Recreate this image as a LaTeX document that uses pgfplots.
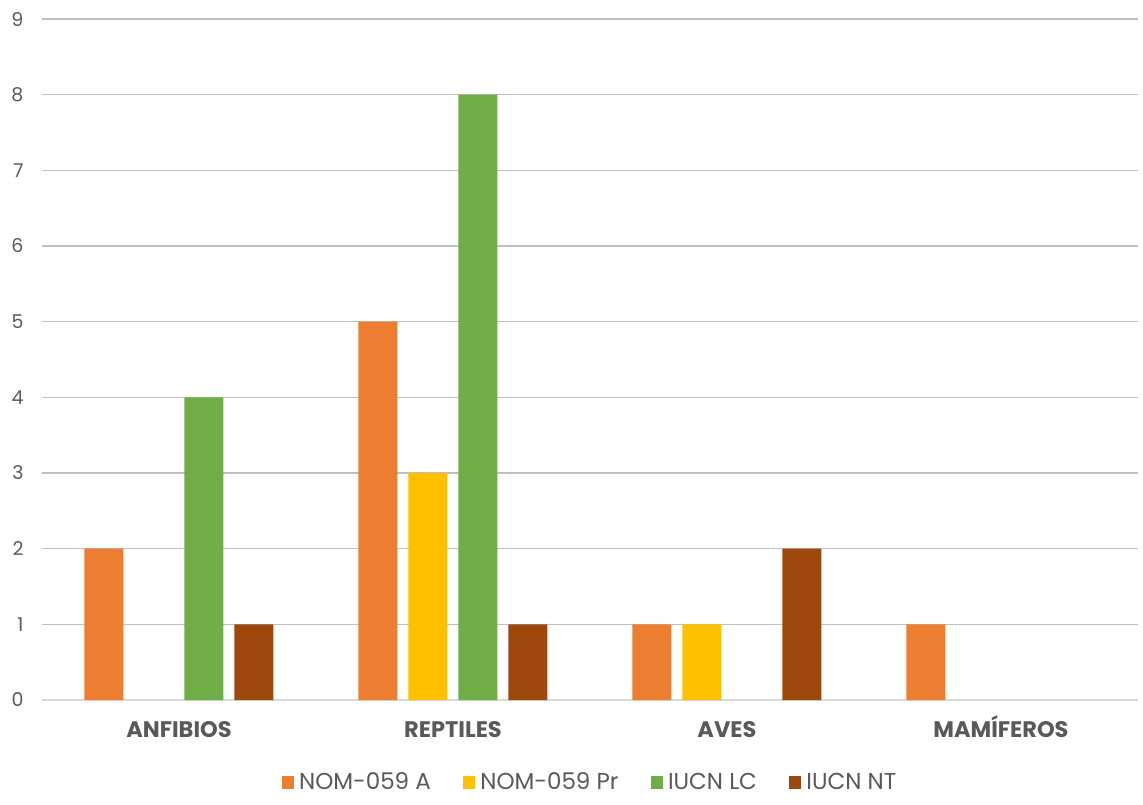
\documentclass[border=0pt]{standalone}
\usepackage{fontspec}
\setmainfont{Poppins}
\usepackage{pgfplots}
\pgfplotsset{compat=1.18}
\definecolor{txt}{HTML}{595959}
\definecolor{grid}{HTML}{D9D9D9}
\definecolor{cA}{HTML}{ED7D31}
\definecolor{cPr}{HTML}{FFC000}
\definecolor{cLC}{HTML}{70AD47}
\definecolor{cNT}{HTML}{9E480E}
\begin{document}
\begin{tikzpicture}
\path[use as bounding box] (0,0) rectangle (1143pt,804pt);
\begin{axis}[
  at={(42pt,104pt)}, anchor=south west,
  scale only axis, width=1096pt, height=681pt,
  ybar=11pt, bar width=39pt,
  xmin=-0.5, xmax=3.5, ymin=0, ymax=9,
  xtick={0,1,2,3},
  xticklabels={ANFIBIOS,REPTILES,AVES,MAMÍFEROS},
  ytick={0,...,9},
  xmajorgrids=false, ymajorgrids=true, grid style={grid, line width=1.2pt},
  axis x line*=bottom, axis y line*=left,
  x axis line style={grid, line width=1.2pt, -},
  y axis line style={draw=none},
  major tick length=0pt,
  /pgf/number format/assume math mode=true,
  xticklabel style={font=\fontsize{22.5}{25}\selectfont\bfseries, text=txt, anchor=base, yshift=-37pt},
  yticklabel style={font=\fontsize{19}{22}\selectfont, text=txt, xshift=-15pt},
  legend style={at={(0.5,0)}, anchor=center, yshift=-82pt, draw=none,
     font=\fontsize{23}{26}\selectfont, text=txt, legend columns=4,
     /tikz/every even column/.append style={column sep=30pt},
     /tikz/every odd column/.append style={column sep=3pt}},
  legend image code/.code={\fill[#1] (0pt,-6.5pt) rectangle (12.5pt,6pt);},
]
\addplot[fill=cA, draw=none] coordinates {(0,2) (1,5) (2,1) (3,1)};
\addplot[fill=cPr, draw=none] coordinates {(1,3) (2,1)};
\addplot[fill=cLC, draw=none] coordinates {(0,4) (1,8)};
\addplot[fill=cNT, draw=none] coordinates {(0,1) (1,1) (2,2)};
\legend{NOM-059 A, NOM-059 Pr, IUCN LC, IUCN NT}
\end{axis}
\end{tikzpicture}
\end{document}
